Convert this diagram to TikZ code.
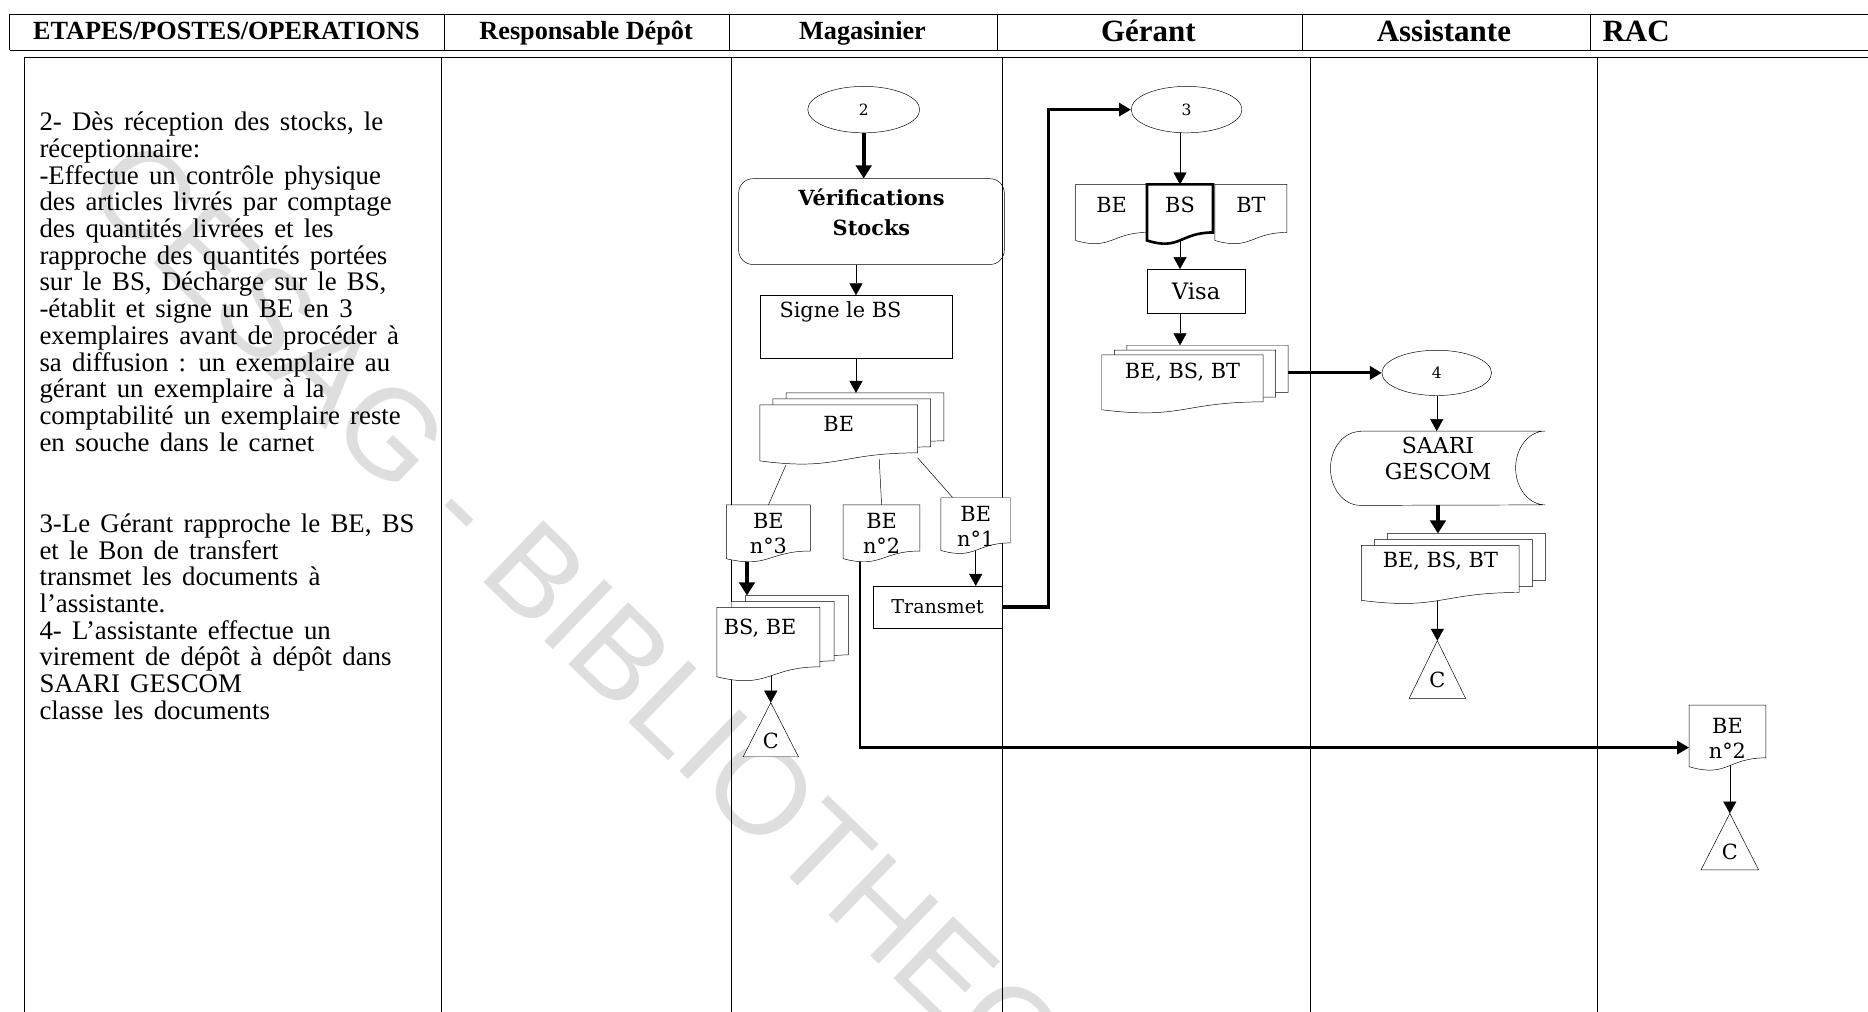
\documentclass[tikz,border=0pt]{standalone}
\usepackage{fontspec}
\setmainfont{Liberation Serif}
\newfontfamily\boxfont{DejaVu Serif}
\newfontfamily\markfont{Liberation Sans}
\usetikzlibrary{shapes.geometric,arrows.meta,calc}
\pgfdeclarelayer{mark}
\pgfdeclarelayer{wires}
\pgfdeclarelayer{docs}
\pgfsetlayers{mark,wires,docs,main}

% wider word spaces for the step descriptions
\newcommand\widespace{\spaceskip=8.6pt plus 2pt minus 1pt\relax}

% one page of a document symbol (wavy bottom), shifted by (#3,#4)
\newcommand\docoutline[4][]{%
  \filldraw[fill=white,#1]
    ($(#2.north west)+(#3,#4)$) -- ($(#2.north east)+(#3,#4)$)
    -- ($(#2.north east)!0.8!(#2.south east)+(#3,#4)$)
    .. controls ($(#2.north)!0.8!(#2.south)+(#3,#4)$)
            and ($(#2.north)!1.107!(#2.south)+(#3,#4)$)
    .. ($(#2.north west)!0.934!(#2.south west)+(#3,#4)$) -- cycle;}
% stack of three pages
\newcommand\docstack[3]{%
  \docoutline{#1}{2*#2}{2*#3}%
  \docoutline{#1}{#2}{#3}%
  \docoutline{#1}{0}{0}}
% stored data symbol
\newcommand\storedoutline[3]{%
  \filldraw[fill=white]
    ($(#1.north west)+(#2,0)$) -- (#1.north east)
    arc[start angle=90,end angle=270,x radius=#2pt,y radius=#3pt]
    -- ($(#1.south west)+(#2,0)$)
    arc[start angle=270,end angle=90,x radius=#2pt,y radius=#3pt] -- cycle;}
% off-page connector triangle
\newcommand\trioutline[1]{%
  \filldraw[fill=white] (#1.north) -- (#1.south east) -- (#1.south west) -- cycle;}

\begin{document}
\begin{tikzpicture}[x=1pt,y=-1pt,line width=1.2pt,
  hd/.style={font=\bfseries\fontsize{22}{24}\selectfont,anchor=base,inner sep=0pt},
  hdbig/.style={font=\bfseries\fontsize{26}{28}\selectfont,anchor=base,inner sep=0pt},
  para/.style={anchor=north west,align=left,inner sep=0pt,
    font=\fontsize{22.5}{22.4}\selectfont\widespace},
  lbl/.style={font=\boxfont\fontsize{17.5}{21}\selectfont,align=center,inner sep=0pt},
  start/.style={ellipse,draw,inner sep=0pt,font=\boxfont\fontsize{13}{13}\selectfont},
  box/.style={draw,rectangle,inner sep=0pt,font=\boxfont\fontsize{17.5}{21}\selectfont},
  docnode/.style={inner sep=0pt,align=center,font=\boxfont\fontsize{17.5}{21}\selectfont},
  trinode/.style={inner sep=0pt,label={[lbl,yshift=-9pt]center:C}},
  flow/.style={-{Triangle[length=10pt,width=11pt]}},
  heavy/.style={line width=3.6pt,-{Triangle[length=11pt,width=13pt]}}]

\useasboundingbox (0,0) rectangle (1568,849);

% watermark
\begin{pgfonlayer}{mark}
\node[rotate=-44,text=black!13,inner sep=0pt,
  font=\markfont\fontsize{105}{105}\selectfont] (wm) at (532,573) {CESAG - BIBLIOTHEQUE};
\end{pgfonlayer}

% table
\begin{pgfonlayer}{wires}
\draw (8,12) -- (1568,12) (8,42) -- (1568,42) (8,12) -- (8,42);
\foreach \x in {373,612,837,1093,1335} \draw (\x,12) -- (\x,42);
\draw (20,48) -- (1568,48);
\foreach \x in {20,370,614,841,1100,1341} \draw (\x,48) -- (\x,850);
\end{pgfonlayer}

% column headings
\node[hd] (h1) at (190,33) {ETAPES/POSTES/OPERATIONS};
\node[hd] (h2) at (492,33) {Responsable Dépôt};
\node[hd] (h3) at (724,33) {Magasinier};
\node[hdbig] (h4) at (964,35) {Gérant};
\node[hdbig] (h5) at (1212,35) {Assistante};
\node[hdbig,anchor=base west] (h6) at (1345,35) {RAC};

% description of the steps
\node[para] (p1) at (33,94) {2- Dès réception des stocks, le\\
réceptionnaire:\\
-Effectue un contrôle physique\\
des articles livrés par comptage\\
des quantités livrées et les\\
rapproche des quantités portées\\
sur le BS, Décharge sur le BS,\\
-établit et signe un BE en 3\\
exemplaires avant de procéder à\\
sa diffusion : un exemplaire au\\
gérant un exemplaire à la\\
comptabilité un exemplaire reste\\
en souche dans le carnet};
\node[para] (p2) at (33,431) {3-Le Gérant rapproche le BE, BS\\
et le Bon de transfert\\
transmet les documents à\\
l’assistante.\\
4- L’assistante  effectue un\\
virement de dépôt à dépôt dans\\
SAARI GESCOM\\
classe les documents};

% Magasinier
\node[start,minimum width=94pt,minimum height=39pt] (e2) at (725,92) {2};
\node[box,rounded corners=12pt,minimum width=223pt,minimum height=72pt,
  label={[lbl,font=\boxfont\bfseries\fontsize{17.5}{25}\selectfont,yshift=7.5pt]center:{Vérifications\\Stocks}}]
  (verif) at (731.5,186) {};
\node[box,minimum width=161pt,minimum height=53pt,
  label={[lbl,xshift=-13pt,yshift=12.5pt]center:{Signe le BS}}] (signe) at (718.5,274.5) {};
\node[docnode,minimum width=132pt,minimum height=50pt,
  label={[lbl,yshift=9pt]center:BE}] (bestk) at (704,365) {};
\node[docnode,minimum width=70pt,minimum height=48pt] (be3) at (645,448) {BE\\n°3};
\node[docnode,minimum width=64pt,minimum height=48pt] (be2) at (740,448) {BE\\n°2};
\node[docnode,minimum width=58pt,minimum height=47pt] (be1) at (819,441.5) {BE\\n°1};
\node[docnode,minimum width=86pt,minimum height=62pt,
  label={[lbl,xshift=-7pt,yshift=14pt]center:{BS, BE}}] (bsbe) at (645,541) {};
\node[trinode,minimum width=46pt,minimum height=45pt] (tri1) at (647,612.5) {};
\node[box,minimum width=108pt,minimum height=35pt,
  font=\boxfont\fontsize{16}{20}\selectfont] (transmet) at (787,509.5) {Transmet};

% Gérant
\node[start,minimum width=93pt,minimum height=39pt] (e3) at (996,92) {3};
\node[docnode,minimum width=60pt,minimum height=50pt,
  label={[lbl,yshift=8pt]center:BE}] (gbe) at (933,180) {};
\node[docnode,minimum width=55pt,minimum height=50pt,
  label={[lbl,yshift=8pt]center:BS}] (gbs) at (990.5,180) {};
\node[docnode,minimum width=60pt,minimum height=50pt,
  label={[lbl,yshift=8pt]center:BT}] (gbt) at (1050,180) {};
\node[box,minimum width=82pt,minimum height=37pt,
  font=\boxfont\fontsize{19}{21}\selectfont] (visa) at (1004,244.5) {Visa};
\node[docnode,minimum width=135pt,minimum height=49pt,
  label={[lbl,yshift=10.5pt]center:{BE, BS, BT}}] (gstk) at (992.5,322.5) {};

% Assistante
\node[start,minimum width=92pt,minimum height=38pt] (e4) at (1206,313) {4};
\node[docnode,minimum width=180pt,minimum height=62pt,
  label={[lbl,yshift=8pt,font=\boxfont\fontsize{18.5}{22}\selectfont]center:{SAARI\\GESCOM}}]
  (saari) at (1207,393) {};
\node[docnode,minimum width=132pt,minimum height=49pt,
  label={[lbl,yshift=11.5pt]center:{BE, BS, BT}}] (astk) at (1209,482.5) {};
\node[trinode,minimum width=47pt,minimum height=48pt] (tri2) at (1206.5,562) {};

% RAC
\node[docnode,minimum width=64pt,minimum height=55pt] (rac2) at (1450,619.5) {BE\\n°2};
\node[trinode,minimum width=48pt,minimum height=47pt] (tri3) at (1452,706.5) {};

% free ends of arrows onto the back page of a stack
\coordinate (bestk-top) at ($(bestk.north)+(0,-10)$);
\coordinate (gstk-top) at ($(gstk.north)+(0,-8)$);
\coordinate (astk-top) at ($(astk.north)+(0,-10)$);

% symbol outlines
\begin{pgfonlayer}{docs}
\docstack{bestk}{11}{-5}
\docoutline{be3}{0}{0}
\docoutline{be2}{0}{0}
\docoutline{be1}{0}{0}
\docstack{bsbe}{12}{-5}
\trioutline{tri1}
\docoutline{gbe}{0}{0}
\docoutline{gbt}{0}{0}
\docoutline[line width=2.2pt]{gbs}{0}{0}
\docstack{gstk}{10.5}{-4}
\storedoutline{saari}{25}{31}
\docstack{astk}{11}{-5}
\trioutline{tri2}
\docoutline{rac2}{0}{0}
\trioutline{tri3}
\end{pgfonlayer}

% connectors
\begin{pgfonlayer}{wires}
\draw[heavy] (e2.south) -- (e2.south |- verif.north);
\draw[flow] (signe.north |- verif.south) -- (signe.north);
\draw[flow] (signe.south) -- (signe.south |- bestk-top);
\draw ($(bestk.south west)+(22,0)$) -- (be3.north);
\draw ($(bestk.south)+(34,-5)$) -- (be2.north);
\draw ($(bestk.south east)+(0,-6)$) -- ($(be1.north west)+(10,0)$);
\draw[heavy] ($(be3.center)+(-18,0)$) -- ($(bsbe.north)+(-18,-10)$);
\draw[flow] (tri1.north |- bsbe.center) -- (tri1.north);
\draw[flow] (be1.center) -- (be1.center |- transmet.north);
\draw[flow,line width=3pt] (transmet.east) -- ($(transmet.east)+(39,0)$) |- (e3.west);
\draw[flow,line width=2.2pt] ($(be2.center)+(-18,0)$) |- ([yshift=-8pt]rac2.west);
\draw[flow] (gbs.north |- e3.south) -- (gbs.north);
\draw[flow] (gbs.center) -- (gbs.center |- visa.north);
\draw[flow] (visa.south -| gbs.center) -- (gstk-top -| gbs.center);
\draw[flow,line width=2.5pt] ($(gstk.east)+(21,-9.5)$) -- (e4.west);
\draw[flow] (e4.south) -- (e4.south |- saari.north);
\draw[heavy] (saari.south) -- (saari.south |- astk-top);
\draw[flow] (tri2.north |- astk.center) -- (tri2.north);
\draw[flow] (tri3.north |- rac2.center) -- (tri3.north);
\end{pgfonlayer}
\end{tikzpicture}
\end{document}
